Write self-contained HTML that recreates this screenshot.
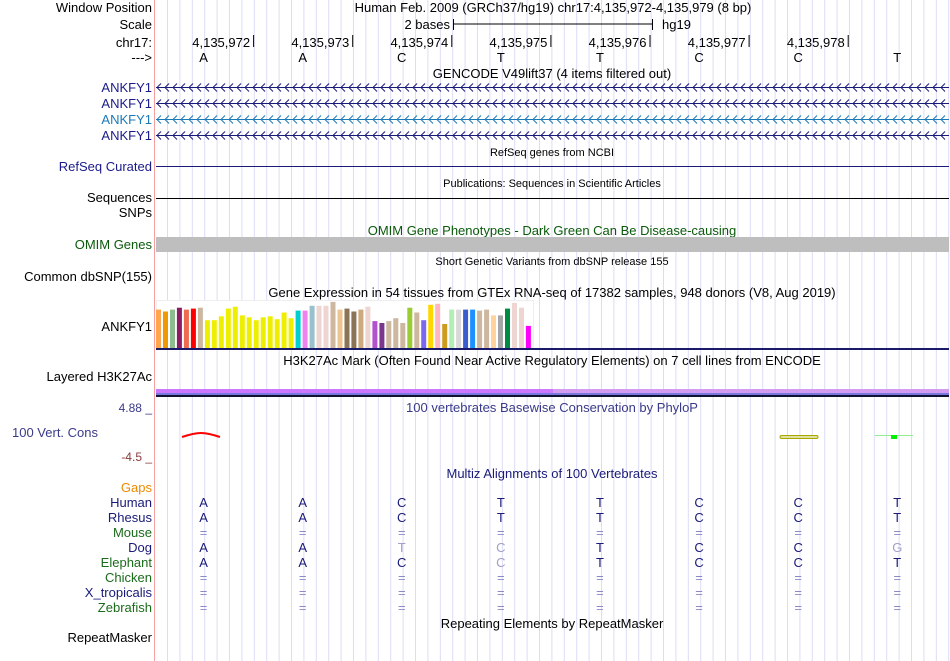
<!DOCTYPE html>
<html><head><meta charset="utf-8"><style>
html,body{margin:0;padding:0;background:#fff;}
svg{display:block;font-family:"Liberation Sans",Arial,sans-serif;}
</style></head><body>
<svg id="chart" width="950" height="661" viewBox="0 0 950 661" xmlns="http://www.w3.org/2000/svg">
<g id="grid"></g>
<line x1="154.5" y1="0" x2="154.5" y2="661" stroke="#f4a0a0" stroke-width="1"/>
<g id="labels" font-size="13" fill="#000" text-anchor="end"></g>
<g id="content"></g>
</svg>
<script>
const NS='http://www.w3.org/2000/svg';
const grid=document.getElementById('grid');
const labels=document.getElementById('labels');
const content=document.getElementById('content');

// data
const bases=['A','A','C','T','T','C','C','T'];
const tickLabels=['4,135,972','4,135,973','4,135,974','4,135,975','4,135,976','4,135,977','4,135,978'];
const species=['Human','Rhesus','Mouse','Dog','Elephant','Chicken','X_tropicalis','Zebrafish'];
const speciesColors=['#1a1a7a','#1a1a7a','#1a6b1a','#1a1a7a','#1a6b1a','#1a6b1a','#1a1a7a','#1a6b1a'];
const alignHuman=['A','A','C','T','T','C','C','T'];
const alignRhesus=['A','A','C','T','T','C','C','T'];
const alignMouse=['=','=','=','=','=','=','=','='];
const alignDog=['A','A','t','c','T','C','C','g'];
const alignElephant=['A','A','C','c','T','C','C','T'];
const alignChicken=['=','=','=','=','=','=','=','='];
const alignXtrop=['=','=','=','=','=','=','=','='];
const alignZebrafish=['=','=','=','=','=','=','=','='];
const alignRows=[alignHuman,alignRhesus,alignMouse,alignDog,alignElephant,alignChicken,alignXtrop,alignZebrafish];
const gtexValues=[40,38,40,42,40,41,42,29,29,33,41,43,34,32,29,32,33,30,37,31,39,39,44,44,44,48,40,41,38,40,43,28,26,28,31,26,42,37,29,45,46,25,40,40,40,40,39,40,34,34,41,47,42,23];
const gtexColors=['#FFA54F','#EE9A00','#8FBC8F','#8B1C62','#EE6A50','#FF0000','#CDB79E','#EEEE00','#EEEE00','#EEEE00','#EEEE00','#EEEE00','#EEEE00','#EEEE00','#EEEE00','#EEEE00','#EEEE00','#EEEE00','#EEEE00','#EEEE00','#00CED1','#EE82EE','#9AC0CD','#EED5D2','#EED5D2','#CDB79E','#EEC591','#8B7355','#8B7355','#CDAA7D','#EED5D2','#B452CD','#7A378B','#CDB79E','#CDB79E','#CDB79E','#9ACD32','#CDB79E','#7B68EE','#FFD700','#FFB6C1','#CD9B1D','#B4EEB4','#D9D9D9','#3A5FCD','#1E90FF','#CDB79E','#CDB79E','#FFD39B','#A6A6A6','#008B45','#EED5D2','#EED5D2','#FF00FF'];

const X0=154, BW=99.1;
const bx=i=>X0+BW*(i+0.5);
const gtexMax=50, gtexBase=348, gtexH=48;
const gy=v=>gtexBase-v/gtexMax*gtexH;

function el(tag,attrs,parent){const e=document.createElementNS(NS,tag);for(const k in attrs)e.setAttribute(k,attrs[k]);(parent||content).appendChild(e);return e;}
function txt(x,y,s,attrs,parent){const t=el('text',Object.assign({x:x,y:y},attrs||{}),parent);t.textContent=s;return t;}

// grid
for(let x=167.5;x<950;x+=12.4){
  const l=el('line',{x1:x.toFixed(1),y1:0,x2:x.toFixed(1),y2:661,stroke:'#dcdcf6','stroke-width':1},grid);
  
  
}

// left labels
const leftLabels=[
 ['Window Position',12,'#000','window-position-label'],['Scale',29,'#000','scale-label'],['chr17:',47,'#000','chrom-label'],['--->',62,'#000','strand-label'],
 ['ANKFY1',92,'#1a1a8a','gene-label-1'],['ANKFY1',108,'#1a1a8a','gene-label-2'],['ANKFY1',124,'#1a7ab8','gene-label-3'],['ANKFY1',140,'#1a1a8a','gene-label-4'],
 ['RefSeq Curated',171,'#1a1a8a','refseq-label'],['Sequences',202,'#000','sequences-label'],['SNPs',217,'#000','snps-label'],
 ['OMIM Genes',249,'#0a5a0a','omim-label'],['Common dbSNP(155)',281,'#000','dbsnp-label'],['ANKFY1',331,'#000','gtex-label'],
 ['Layered H3K27Ac',381,'#000','h3k27ac-label']
];
leftLabels.forEach(a=>{const t=txt(152,a[1],a[0],{fill:a[2]},labels);});
let t=txt(12,437,'100 Vert. Cons',{fill:'#3a3a8a','text-anchor':'start','font-size':'13'},labels);

t=txt(152,412,'4.88 _',{fill:'#3a3a8a','font-size':'12'},labels);
t=txt(152,461,'-4.5 _',{fill:'#8a3a3a','font-size':'12'},labels);
t=txt(152,492,'Gaps',{fill:'#ee8a00'},labels);
species.forEach((s,i)=>{const tt=txt(152,507+15*i,s,{fill:speciesColors[i]},labels);});
t=txt(152,642,'RepeatMasker',{fill:'#000'},labels);

// header
t=txt(553,12,'Human Feb. 2009 (GRCh37/hg19)   chr17:4,135,972-4,135,979 (8 bp)',{'text-anchor':'middle','font-size':'13','xml:space':'preserve'});

t=txt(450,29,'2 bases',{'text-anchor':'end','font-size':'13'});
const sb=el('path',{d:'M453.5,19V30M453.5,24H652.5M652.5,19V30',stroke:'#000',fill:'none'});
t=txt(662,29,'hg19',{'font-size':'13'});
tickLabels.forEach((s,i)=>{
  const xe=X0+BW*(i+1);
  const tt=txt(xe-3,47,s,{'text-anchor':'end','font-size':'13'});
  const tk=el('line',{x1:xe+0.5,y1:35,x2:xe+0.5,y2:47,stroke:'#000'});
});
bases.forEach((b,i)=>{const tt=txt(bx(i),62,b,{'text-anchor':'middle','font-size':'13'});});

// section titles
const titles=[
 ['GENCODE V49lift37 (4 items filtered out)',78,13,'#000','gencode-title'],
 ['RefSeq genes from NCBI',156,11,'#000','refseq-title'],
 ['Publications: Sequences in Scientific Articles',187,11,'#000','publications-title'],
 ['OMIM Gene Phenotypes - Dark Green Can Be Disease-causing',235,13,'#0a5a0a','omim-title'],
 ['Short Genetic Variants from dbSNP release 155',265,11,'#000','dbsnp-title'],
 ['Gene Expression in 54 tissues from GTEx RNA-seq of 17382 samples, 948 donors (V8, Aug 2019)',297,13,'#000','gtex-title'],
 ['H3K27Ac Mark (Often Found Near Active Regulatory Elements) on 7 cell lines from ENCODE',365,13,'#000','h3k27ac-title'],
 ['100 vertebrates Basewise Conservation by PhyloP',412,13,'#3a3a8a','phylop-title'],
 ['Multiz Alignments of 100 Vertebrates',478,13,'#1a1a7a','multiz-title'],
 ['Repeating Elements by RepeatMasker',628,13,'#000','repeatmasker-title']
];
titles.forEach(a=>{const tt=txt(552,a[1],a[0],{'text-anchor':'middle','font-size':a[2],fill:a[3]});});

// gene lines with chevrons
[[87,'#1a1a7a'],[103,'#1a1a7a'],[119,'#1a7ab8'],[135,'#1a1a7a']].forEach((g,i)=>{
  const gg=el('g',{});
  const y=g[0]+0.5;
  let d='M156,'+y+'H949';
  for(let x=157;x<945;x+=8){d+='M'+(x+4)+','+(y-4)+'L'+x+','+y+'L'+(x+4)+','+(y+4);}
  el('path',{d:d,stroke:g[1],fill:'none','stroke-width':1},gg);
});
let ln=el('line',{x1:156,y1:166.5,x2:949,y2:166.5,stroke:'#1a1a7a'});
ln=el('line',{x1:156,y1:198.5,x2:949,y2:198.5,stroke:'#000'});
ln=el('rect',{x:156,y:237,width:793,height:15,fill:'#bebebe'});

// GTEx
ln=el('rect',{x:156.5,y:300.5,width:377,height:48,fill:'#fff',stroke:'#eee'});
gtexValues.forEach((v,i)=>{
  const r=el('rect',{x:(156+i*6.98).toFixed(1),y:gy(v).toFixed(1),width:5,height:(gtexBase-gy(v)).toFixed(1),fill:gtexColors[i]});
  
  
});
ln=el('rect',{x:156,y:348,width:793,height:2,fill:'#1a1a6a'});

// H3K27Ac bands
ln=el('rect',{x:156,y:389,width:397,height:4,fill:'#cc77ff'});
ln=el('rect',{x:553,y:389,width:396,height:4,fill:'#d49cf0'});
ln=el('rect',{x:156,y:393,width:793,height:2,fill:'#7777dd'});
ln=el('rect',{x:156,y:395,width:793,height:2,fill:'#111133'});

// conservation
ln=el('path',{d:'M182,437 Q194,433 201,433 Q208,433 220,437',stroke:'#ff0000','stroke-width':2,fill:'none'});
ln=el('rect',{x:780,y:435.5,width:38,height:3,rx:1.5,fill:'#e0e0a0',stroke:'#a8a800'});
ln=el('line',{x1:875,y1:435.5,x2:913,y2:435.5,stroke:'#90ee90'});
ln=el('rect',{x:891,y:435,width:6,height:4,fill:'#00ee00'});

// alignment
alignRows.forEach((row,r)=>{
  row.forEach((c,i)=>{
    const light=(c===c.toLowerCase()&&c!=='=');
    const col=c==='='?'#8a8ac8':(light?'#a0a0c8':'#1a1a7a');
    const tt=txt(bx(i),507+15*r,c.toUpperCase(),{'text-anchor':'middle','font-size':'13',fill:col});
    
    
  });
});
</script>
</body></html>
